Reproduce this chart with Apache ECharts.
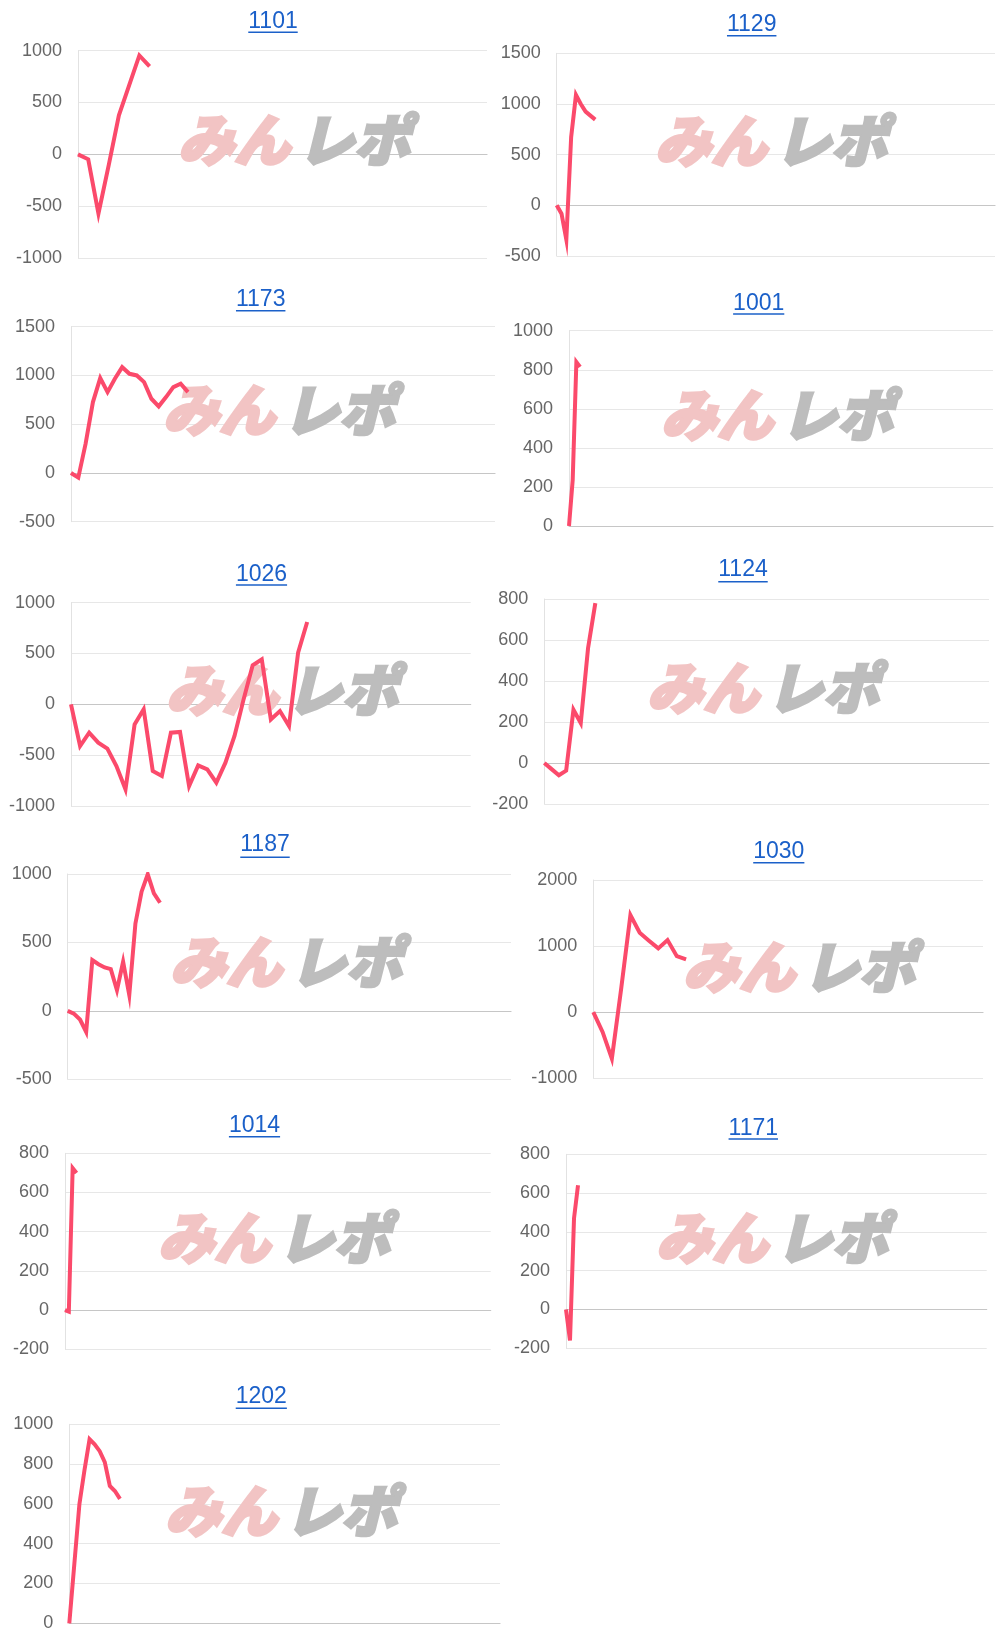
<!DOCTYPE html>
<html>
<head>
<meta charset="utf-8">
<script src="https://cdn.jsdelivr.net/npm/echarts@6/dist/echarts.min.js"></script>
<style>
html,body{margin:0;padding:0;background:#fff;}
#chart{width:1000px;height:1645px;}
</style>
</head>
<body>
<div id="chart"></div>
<script>
// ---- data ----
const titles = ['1101','1129','1173','1001','1026','1124','1187','1030','1014','1171','1202'];
// number of x-axis slots of each panel (hidden category labels)
const slotCounts = [41, 92, 59, 116, 45, 62, 73, 43, 112, 106, 86];
// y-axis tick settings
const yMins  = [-1000, -500, -500,    0, -1000, -200, -500, -1000, -200, -200,    0];
const yMaxs  = [ 1000, 1500, 1500, 1000,  1000,  800, 1000,  2000,  800,  800, 1000];
const ySteps = [  500,  500,  500,  200,   500,  200,  500,  1000,  200,  200,  200];

const v1101 = [0, -48, -571, -106, 376, 665, 954, 848];
const v1129 = [0, -82, -338, 672, 1089, 1000, 925, 885, 846];
const v1173 = [0, -48, 300, 727, 973, 829, 966, 1085, 1017, 1000, 932, 761, 683, 778, 880, 915, 829];
const v1001 = [0, 235, 840, 815];
const v1026 = [0, -410, -279, -377, -436, -607, -836, -197, -49, -656, -705, -279, -272, -803, -600, -639, -770, -574, -311, 49, 384, 443, -148, -66, -213, 508, 810];
const v1124 = [0, -30, -60, -37, 260, 195, 560, 780];
const v1187 = [0, -20, -63, -154, 371, 341, 317, 305, 151, 359, 115, 639, 871, 998, 859, 790];
const v1030 = [0, -298, -702, 350, 1470, 1202, 1081, 965, 1091, 848, 798];
const v1014 = [0, -8, 725, 700];
const v1171 = [0, -160, 470, 640];
const v1202 = [0, 300, 600, 770, 925, 900, 865, 810, 690, 665, 625];

const seriesValues = [v1101, v1129, v1173, v1001, v1026, v1124, v1187, v1030, v1014, v1171, v1202];

// ---- layout (pixels) ----
// [left, top, width, height] of each plot area
const gridBoxes = [
  [78, 50.7, 409, 207.3],
  [556.7, 53.3, 438.3, 202.7],
  [71, 326.7, 424, 195],
  [569, 330.7, 424, 195.3],
  [71, 602.7, 399.7, 203.3],
  [544.3, 599, 444.7, 205],
  [67.7, 874, 443.3, 205.3],
  [593.3, 880, 389.7, 198.3],
  [65, 1153.3, 425.7, 196],
  [566, 1154.3, 420.7, 194],
  [69.3, 1424.3, 430.7, 199]
];
// [centerX, centerY, underlineY]
const titlePos = [
  [273, 22, 32.3], [751.7, 25, 35.7], [260.7, 299.5, 310.7], [758.7, 303.3, 314],
  [261.5, 574.3, 585], [743, 570, 581.7], [265, 845, 857.3], [778.8, 852, 862.7],
  [254.5, 1125.8, 1136.7], [753.3, 1128.3, 1139], [261.3, 1396.7, 1408.3]
];
// watermark centers
const logoPos = [
  [300,140],[777,141],[285,410],[783,415],[288,690],[769,688],
  [292,962],[805,967],[280,1238],[778,1238],[287,1511]
];

const LINE_COLOR = '#fb4a6b';
const TITLE_COLOR = '#1b60c9';
const FONT = '"Liberation Sans", Arial, Helvetica, sans-serif';
const TITLE_SIZE = 23;
const LOGO_FONT = 'italic 900 56px "Noto Sans CJK JP"';

const ctx = document.createElement('canvas').getContext('2d');
ctx.font = TITLE_SIZE + 'px ' + FONT;

const grids = [], xAxes = [], yAxes = [], series = [], graphics = [];
titles.forEach((t, i) => {
  const g = gridBoxes[i];
  grids.push({left: g[0], top: g[1], width: g[2], height: g[3]});
  const cats = Array.from({length: slotCounts[i]}, (_, k) => String(k + 1));
  xAxes.push({
    type: 'category', gridIndex: i, data: cats, boundaryGap: false,
    axisLine: {show: true, onZero: true, lineStyle: {color: '#c6c6c6', width: 1.2}},
    axisTick: {show: false}, axisLabel: {show: false}, splitLine: {show: false}
  });
  yAxes.push({
    type: 'value', gridIndex: i, min: yMins[i], max: yMaxs[i], interval: ySteps[i],
    axisLine: {show: true, lineStyle: {color: '#e2e2e2', width: 1}},
    axisTick: {show: false},
    axisLabel: {color: '#666', fontSize: 18, margin: 16, fontFamily: FONT,
                formatter: v => String(v)},
    splitLine: {show: true, lineStyle: {color: '#e7e7e7', width: 1}}
  });
  series.push({
    type: 'line', name: t, xAxisIndex: i, yAxisIndex: i, data: seriesValues[i],
    showSymbol: false, symbol: 'none', silent: true, z: 3,
    lineStyle: {color: LINE_COLOR, width: 4, join: 'miter', cap: 'butt'},
    itemStyle: {color: LINE_COLOR}
  });
  const tp = titlePos[i];
  const w = ctx.measureText(t).width;
  graphics.push({
    type: 'text', x: tp[0], y: tp[1], z: 5,
    style: {text: t, fill: TITLE_COLOR, font: TITLE_SIZE + 'px ' + FONT,
            textAlign: 'center', textVerticalAlign: 'middle', align: 'center', verticalAlign: 'middle'}
  });
  graphics.push({
    type: 'line', z: 5,
    shape: {x1: tp[0] - w / 2, y1: tp[2], x2: tp[0] + w / 2, y2: tp[2]},
    style: {stroke: TITLE_COLOR, lineWidth: 1.6}
  });
  const lp = logoPos[i];
  graphics.push({
    type: 'text', x: lp[0] - 10, y: lp[1], z: 1,
    style: {text: 'みん', fill: '#f2c4c4', stroke: '#f2c4c4', lineWidth: 3,
            font: LOGO_FONT,
            textAlign: 'right', textVerticalAlign: 'middle', align: 'right', verticalAlign: 'middle'}
  });
  graphics.push({
    type: 'text', x: lp[0] - 2, y: lp[1], z: 1,
    style: {text: 'レポ', fill: '#bdbdbd', stroke: '#bdbdbd', lineWidth: 3,
            font: LOGO_FONT,
            textAlign: 'left', textVerticalAlign: 'middle', align: 'left', verticalAlign: 'middle'}
  });
});

const chart = echarts.init(document.getElementById('chart'), null, {renderer: 'canvas'});
chart.setOption({
  backgroundColor: '#ffffff',
  animation: false,
  textStyle: {fontFamily: FONT},
  grid: grids, xAxis: xAxes, yAxis: yAxes, series: series, graphic: graphics
});
</script>
</body>
</html>
